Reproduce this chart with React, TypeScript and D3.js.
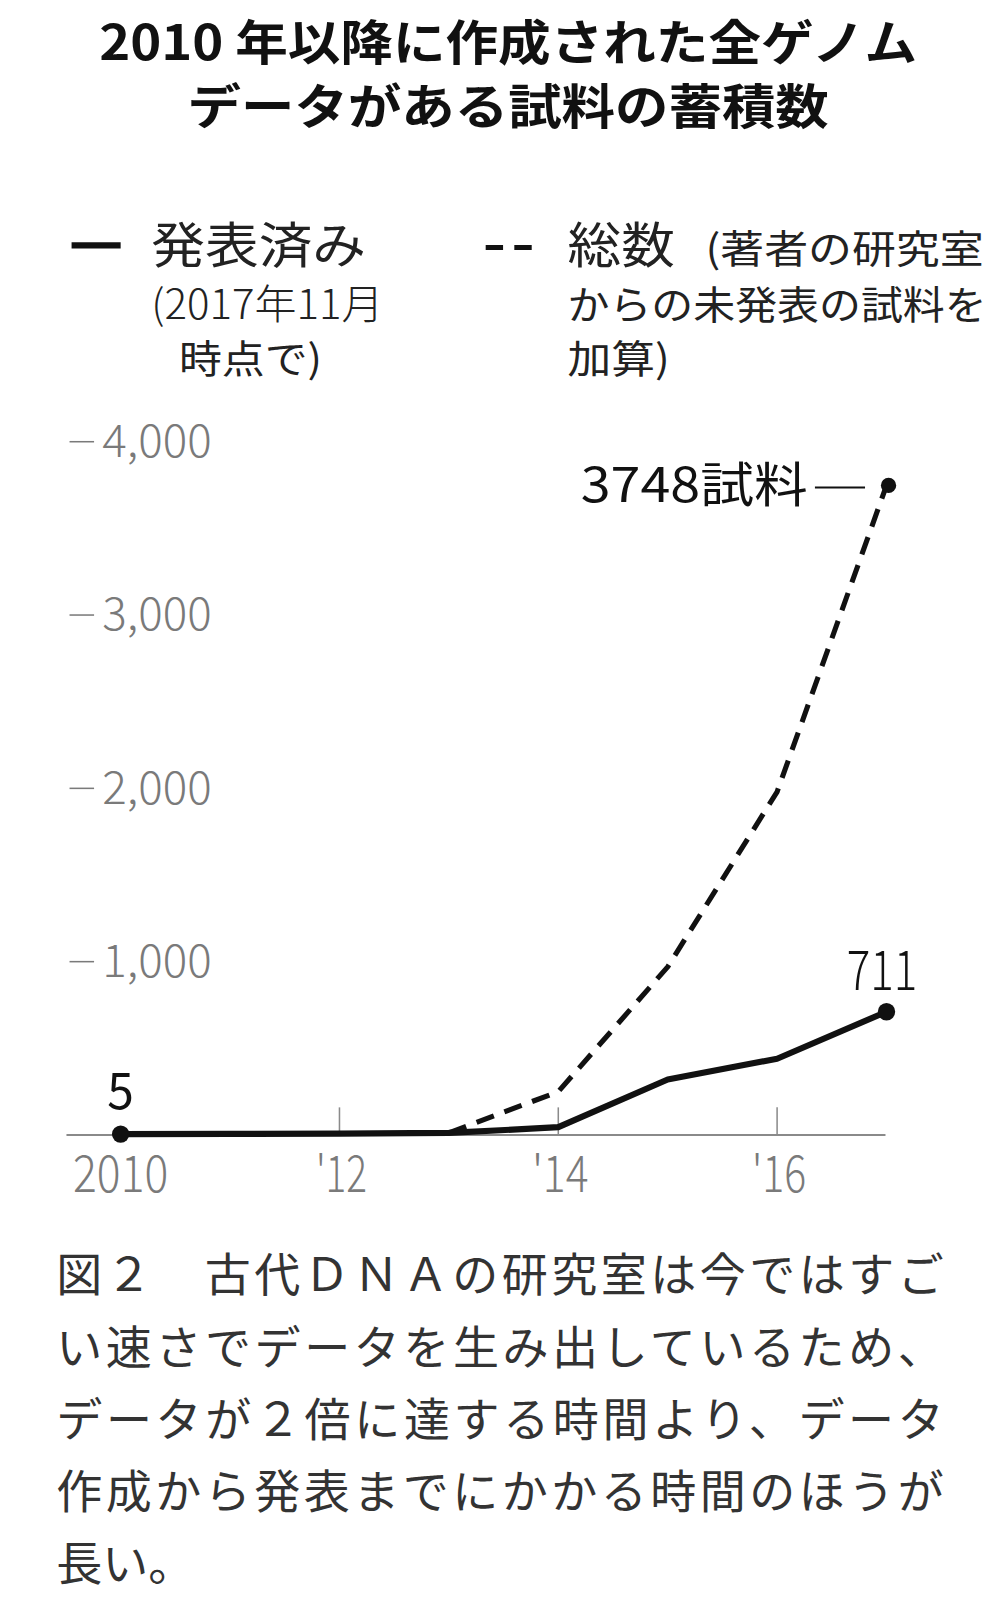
import * as d3 from "d3";

const years = [2010, 2011, 2012, 2013, 2014, 2015, 2016, 2017];
const published = [5, 6, 8, 12, 45, 320, 440, 711];
const totalYears = [2013, 2014, 2015, 2016, 2017];
const total = [12, 250, 970, 1980, 3748];
const yTicks = [1000, 2000, 3000, 4000];
const xTicks = [2010, 2012, 2014, 2016];
const xTickLabels = ["2010", "'12", "'14", "'16"];
const xTickWidths = [93, 50, 55, 53];

const titleLines = ["2010 年以降に作成された全ゲノム", "データがある試料の蓄積数"];
const captionLines = [
  "図２　古代ＤＮＡの研究室は今ではすご",
  "い速さでデータを生み出しているため、",
  "データが２倍に達する時間より、データ",
  "作成から発表までにかかる時間のほうが",
  "長い。",
];

const JP = "'Noto Sans CJK JP', 'Noto Sans', sans-serif";
const GRAY = "#7a7a7a";
const INK = "#111";

// layout below was measured on the reference at ~0.978 scale, so the whole
// drawing is scaled back up once
const K = 1.0225;

type Pt = { x: number; y: number };

export default function App() {
  const width = 1000;
  const height = 1600;

  const x = d3.scaleLinear().domain([2010, 2017]).range([118, 867]);
  const y = d3.scaleLinear().domain([0, 4000]).range([1110, 432]);

  const pubPts: Pt[] = years.map((yr, i) => ({ x: yr, y: published[i] }));
  const totPts: Pt[] = totalYears.map((yr, i) => ({ x: yr, y: total[i] }));

  const line = d3
    .line<Pt>()
    .x((d) => x(d.x))
    .y((d) => y(d.y));

  const lastPub = pubPts[pubPts.length - 1];
  const lastTot = totPts[totPts.length - 1];

  return (
    <svg
      width={width}
      height={height}
      style={{ position: "absolute", left: 0, top: 0, background: "#fff" }}
    >
      <rect width={width} height={height} fill="#fff" />
      <g transform={`scale(${K})`}>
        {/* title */}
        <text textAnchor="middle" fontFamily={JP} fontWeight={700} fontSize={47} fill={INK}>
          {titleLines.map((t, i) => (
            <tspan
              key={t}
              x={497}
              y={59 + i * 62}
              textLength={i === 0 ? 800 : 627}
              lengthAdjust="spacingAndGlyphs"
            >
              {t}
            </tspan>
          ))}
        </text>

        {/* legend */}
        <line x1={70} x2={118} y1={240} y2={240} stroke={INK} strokeWidth={6} />
        <text x={148} y={257} fontFamily={JP} fontSize={48} fill="#222" textLength={210} lengthAdjust="spacingAndGlyphs">
          発表済み
        </text>
        <text x={148} y={312} fontFamily={JP} fontWeight={300} fontSize={40} fill="#222" textLength={227} lengthAdjust="spacingAndGlyphs">
          (2017年11月
        </text>
        <text x={175} y={365} fontFamily={JP} fontSize={38} fill="#222" textLength={140} lengthAdjust="spacingAndGlyphs">
          時点で)
        </text>

        <line x1={475} x2={520} y1={242} y2={242} stroke={INK} strokeWidth={5} strokeDasharray="17 11" />
        <text x={555} y={257} fontFamily={JP} fontSize={48} fill="#222" textLength={105} lengthAdjust="spacingAndGlyphs">
          総数
        </text>
        <text x={690} y={257} fontFamily={JP} fontSize={38} fill="#222" textLength={272} lengthAdjust="spacingAndGlyphs">
          (著者の研究室
        </text>
        <text x={555} y={312} fontFamily={JP} fontSize={38} fill="#222" textLength={410} lengthAdjust="spacingAndGlyphs">
          からの未発表の試料を
        </text>
        <text x={555} y={365} fontFamily={JP} fontSize={38} fill="#222" textLength={100} lengthAdjust="spacingAndGlyphs">
          加算)
        </text>

        {/* y ticks */}
        {yTicks.map((t) => (
          <g key={t}>
            <line x1={68} x2={92} y1={y(t)} y2={y(t)} stroke={GRAY} strokeWidth={1.5} />
            <text
              x={100}
              y={y(t) + 15}
              fontFamily={JP}
              fontWeight={300}
              fontSize={44}
              fill={GRAY}
              textLength={107}
              lengthAdjust="spacingAndGlyphs"
            >
              {d3.format(",")(t)}
            </text>
          </g>
        ))}

        {/* x axis */}
        <line x1={65} x2={866} y1={y(0)} y2={y(0)} stroke="#8a8a8a" strokeWidth={2} />
        {xTicks.slice(1).map((t) => (
          <line key={t} x1={x(t)} x2={x(t)} y1={y(0) - 27} y2={y(0)} stroke="#8a8a8a" strokeWidth={1.5} />
        ))}
        {xTicks.map((t, i) => (
          <text
            key={t}
            x={x(t) - xTickWidths[i] / 2 + (i === 0 ? 0 : 2)}
            y={1166}
            fontFamily={JP}
            fontWeight={300}
            fontSize={50}
            fill={GRAY}
            textLength={xTickWidths[i]}
            lengthAdjust="spacingAndGlyphs"
          >
            {xTickLabels[i]}
          </text>
        ))}

        {/* lines */}
        <path
          d={line(totPts) ?? ""}
          fill="none"
          stroke={INK}
          strokeWidth={5}
          strokeDasharray="18 11"
          strokeLinejoin="round"
        />
        <path d={line(pubPts) ?? ""} fill="none" stroke={INK} strokeWidth={6} strokeLinejoin="round" />

        <circle cx={x(pubPts[0].x)} cy={y(pubPts[0].y)} r={8.5} fill={INK} />
        <circle cx={x(lastPub.x)} cy={y(lastPub.y)} r={8.5} fill={INK} />
        <circle cx={x(lastTot.x) + 2} cy={y(lastTot.y)} r={7.5} fill={INK} />

        {/* annotations */}
        <text x={105} y={1085} fontFamily={JP} fontSize={50} fill={INK} textLength={26} lengthAdjust="spacingAndGlyphs">
          {published[0]}
        </text>
        <text x={828} y={968} fontFamily={JP} fontWeight={300} fontSize={54} fill={INK} textLength={69} lengthAdjust="spacingAndGlyphs">
          {lastPub.y}
        </text>
        <text x={568} y={491} fontFamily={JP} fontSize={47} fill={INK} textLength={222} lengthAdjust="spacingAndGlyphs">
          {lastTot.y}試料
        </text>
        <line x1={797} x2={846} y1={y(lastTot.y) + 2} y2={y(lastTot.y) + 2} stroke={INK} strokeWidth={2} />

        {/* caption */}
        {captionLines.map((t, i) => (
          <text
            key={i}
            x={55}
            y={1263 + i * 70.5}
            fontFamily={JP}
            fontSize={45}
            fill="#333"
            textLength={i < 4 ? 868 : undefined}
            lengthAdjust="spacing"
          >
            {t}
          </text>
        ))}
      </g>
    </svg>
  );
}
